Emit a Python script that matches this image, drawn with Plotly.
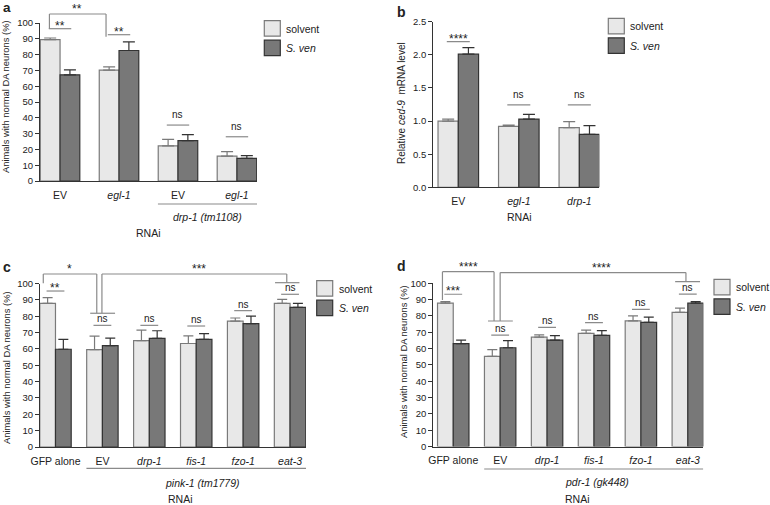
import plotly.graph_objects as go

W, H = 770, 505
FONT = 'Liberation Sans, Arial, sans-serif'
INK = '#222222'
GRAY = '#8a8a8a'
LIGHT = '#e8e8e8'
LIGHT_EDGE = '#7a7a7a'
DARK = '#787878'
DARK_EDGE = '#333333'

# ---- panel a: % animals with normal DA neurons ----
a_groups = ['EV', '<i>egl-1</i>', 'EV', '<i>egl-1</i>']
a_solvent = [89.5, 70.2, 22.2, 15.8]
a_solvent_err = [1.0, 2.0, 4.1, 2.8]
a_sven = [67.2, 82.6, 25.5, 14.3]
a_sven_err = [3.1, 5.5, 3.8, 1.7]

# ---- panel b: relative ced-9 mRNA level ----
b_groups = ['EV', '<i>egl-1</i>', '<i>drp-1</i>']
b_solvent = [1.00, 0.92, 0.90]
b_solvent_err = [0.03, 0.02, 0.09]
b_sven = [2.01, 1.03, 0.80]
b_sven_err = [0.10, 0.07, 0.13]

# ---- panel c: pink-1 (tm1779) ----
c_groups = ['GFP alone', 'EV', '<i>drp-1</i>', '<i>fis-1</i>', '<i>fzo-1</i>', '<i>eat-3</i>']
c_solvent = [87.8, 59.6, 65.0, 63.3, 77.0, 87.8]
c_solvent_err = [3.6, 8.2, 6.5, 4.7, 1.9, 2.5]
c_sven = [59.8, 62.0, 66.4, 65.8, 75.5, 85.4]
c_sven_err = [6.0, 4.6, 4.7, 3.6, 4.5, 2.4]

# ---- panel d: pdr-1 (gk448) ----
d_groups = ['GFP alone', 'EV', '<i>drp-1</i>', '<i>fis-1</i>', '<i>fzo-1</i>', '<i>eat-3</i>']
d_solvent = [87.8, 55.2, 67.0, 69.3, 77.0, 82.2]
d_solvent_err = [1.0, 4.1, 1.4, 2.0, 3.0, 2.6]
d_sven = [63.0, 60.5, 65.2, 68.1, 76.0, 87.8]
d_sven_err = [2.2, 4.4, 2.7, 2.9, 3.3, 1.0]

# significance within a group: (group, label, line level)
a_pairs = [(0, '**', 96.4), (1, '**', 92.6), (2, 'ns', 35.4), (3, 'ns', 28.0)]
b_pairs = [(0, '****', 2.2), (1, 'ns', 1.243), (2, 'ns', 1.243)]
c_pairs = [(0, '**', 95.4), (1, 'ns', 74.4), (2, 'ns', 74.4), (3, 'ns', 74.0), (4, 'ns', 83.4), (5, 'ns', 93.4)]
d_pairs = [(0, '***', 93.3), (1, 'ns', 68.3), (2, 'ns', 73.0), (3, 'ns', 75.9), (4, 'ns', 84.0), (5, 'ns', 93.4)]

# long brackets: (left x, right x, top level, left end, right end, label, label x)
a_brackets = [(-0.18, 0.78, 105.7, 96.2, 91.3, '**', 0.29)]
c_brackets = [(-0.26, 0.88, 105.8, 100.1, 81.8, '*', 0.30),
              (0.99, 4.93, 105.8, 81.8, 100.5, '***', 3.05)]
d_brackets = [(-0.23, 0.87, 107.1, 89.8, 76.9, '****', 0.32),
              (1.0, 4.96, 106.6, 76.9, 101.0, '****', 3.15)]
# bracket feet: (x0, x1, level)
c_feet = [(0.74, 1.27, 81.8), (4.68, 5.20, 100.5)]
d_feet = [(0.74, 1.27, 76.9), (4.73, 5.26, 101.0)]

fig = go.Figure()


def px(x, y):
    return x / W, 1 - y / H


def line_seg(sfx, x0, x1, y0, y1, ymax):
    fig.add_shape(type='line', xref='x' + sfx, yref='y' + sfx + ' domain',
                  x0=x0, x1=x1, y0=y0 / ymax, y1=y1 / ymax,
                  line=dict(color=GRAY, width=1.2))


def sig_text(sfx, x, level, ymax, label, shift):
    star = '*' in label
    fig.add_annotation(xref='x' + sfx, yref='y' + sfx + ' domain', x=x, y=level / ymax,
                       text=label, showarrow=False, yanchor='middle', yshift=shift,
                       font=dict(size=12 if star else 10, color=INK, family=FONT))


def add_panel(n, groups, sol, sol_err, sv, sv_err, ymax, dtick, tickfmt,
              xpx, ypx, xrange, cap, pairs, ns_shift, brackets=(), feet=()):
    sfx = '' if n == 1 else str(n)
    xa, ya = 'x' + sfx, 'y' + sfx
    x = list(range(len(groups)))
    fig.add_trace(go.Bar(x=x, y=sol, name='solvent', xaxis=xa, yaxis=ya, showlegend=False,
                         marker=dict(color=LIGHT, line=dict(color=LIGHT_EDGE, width=1.2)),
                         error_y=dict(type='data', symmetric=False, array=sol_err,
                                      arrayminus=[0] * len(x), color=LIGHT_EDGE,
                                      thickness=1.2, width=cap)))
    fig.add_trace(go.Bar(x=x, y=sv, name='S. ven', xaxis=xa, yaxis=ya, showlegend=False,
                         marker=dict(color=DARK, line=dict(color=DARK_EDGE, width=1.2)),
                         error_y=dict(type='data', symmetric=False, array=sv_err,
                                      arrayminus=[0] * len(x), color=DARK_EDGE,
                                      thickness=1.2, width=cap)))
    fig.update_layout({
        'xaxis' + sfx: dict(domain=[xpx[0] / W, xpx[1] / W], anchor=ya, range=list(xrange),
                            tickvals=x, ticktext=groups, showline=True, linecolor='#333333',
                            linewidth=1.2, ticks='outside', ticklen=4, tickcolor='rgba(0,0,0,0)',
                            showgrid=False, zeroline=False, automargin=False,
                            tickfont=dict(size=10.5, color=INK, family=FONT)),
        'yaxis' + sfx: dict(domain=[1 - ypx[0] / H, 1 - ypx[1] / H], anchor=xa, range=[0, ymax],
                            dtick=dtick, tickformat=tickfmt, showline=True, linecolor='#333333',
                            linewidth=1.2, ticks='outside', ticklen=4, tickwidth=1.2,
                            tickcolor='#333333', showgrid=False, zeroline=False, automargin=False,
                            tickfont=dict(size=9.5, color=INK, family=FONT)),
    })
    for g, label, level in pairs:
        line_seg(sfx, g - 0.19, g + 0.19, level, level, ymax)
        sig_text(sfx, g, level, ymax, label, 3 if '*' in label else ns_shift)
    for xl, xr, top, yl, yr, label, lx in brackets:
        line_seg(sfx, xl, xl, yl, top, ymax)
        line_seg(sfx, xl, xr, top, top, ymax)
        line_seg(sfx, xr, xr, top, yr, ymax)
        sig_text(sfx, lx, top, ymax, label, 5)
    for x0, x1, level in feet:
        line_seg(sfx, x0, x1, level, level, ymax)


def add_legend(x0, y0):
    items = [('solvent', LIGHT, LIGHT_EDGE), ('<i>S. ven</i>', DARK, DARK_EDGE)]
    for i, (name, fill, edge) in enumerate(items):
        top = y0 + i * 19.5
        xa, ya = px(x0, top)
        xb, yb = px(x0 + 16, top + 15.5)
        fig.add_shape(type='rect', xref='paper', yref='paper', x0=xa, x1=xb, y0=yb, y1=ya,
                      fillcolor=fill, line=dict(color=edge, width=1.2))
        tx, ty = px(x0 + 20, top + 8)
        fig.add_annotation(xref='paper', yref='paper', x=tx, y=ty, text=name, showarrow=False,
                           xanchor='left', yanchor='middle',
                           font=dict(size=10.5, color=INK, family=FONT))


def text_at(x, y, text, size=10.5, angle=0, bold=False):
    tx, ty = px(x, y)
    fig.add_annotation(xref='paper', yref='paper', x=tx, y=ty, text=f'<b>{text}</b>' if bold else text,
                       showarrow=False, textangle=angle, xanchor='center', yanchor='middle',
                       font=dict(size=size, color=INK, family=FONT))


def group_line(sfx, x0, x1, y):
    fig.add_shape(type='line', xref='x' + sfx, yref='paper', x0=x0, x1=x1,
                  y0=1 - y / H, y1=1 - y / H, line=dict(color=GRAY, width=1.2))


add_panel(1, a_groups, a_solvent, a_solvent_err, a_sven, a_sven_err, 100, 10, '',
          (40, 257), (181, 23), (-0.34, 3.34), 6, a_pairs, 10.5, a_brackets)
add_panel(2, b_groups, b_solvent, b_solvent_err, b_sven, b_sven_err, 2.5, 0.5, '.1f',
          (433.3, 599.3), (187.3, 21.7), (-0.413, 2.33), 6, b_pairs, 10.5)
add_panel(3, c_groups, c_solvent, c_solvent_err, c_sven, c_sven_err, 100, 10, '',
          (40, 306), (447, 283.5), (-0.33, 5.34), 5, c_pairs, 6.5, c_brackets, c_feet)
add_panel(4, d_groups, d_solvent, d_solvent_err, d_sven, d_sven_err, 100, 10, '',
          (433.3, 703.3), (446.5, 283.3), (-0.425, 5.33), 5, d_pairs, 6.5, d_brackets, d_feet)

# legends
add_legend(264.3, 20.7)
add_legend(608.3, 18.3)
add_legend(316.7, 280.7)
add_legend(714, 279.3)

# panel letters
text_at(7, 7, 'a', 13.5, bold=True)
text_at(402, 12, 'b', 14, bold=True)
text_at(7, 267, 'c', 14, bold=True)
text_at(402, 266, 'd', 14, bold=True)

# y axis titles
text_at(6, 97, 'Animals with normal DA neurons (%)', 9.4, angle=-90)
text_at(402, 103, 'Relative <i>ced-9</i>  mRNA level', 10, angle=-90)
text_at(6, 368, 'Animals with normal DA neurons (%)', 9.4, angle=-90)
text_at(403, 362, 'Animals with normal DA neurons (%)', 9.4, angle=-90)

# group labels under the axes
group_line('', 1.66, 3.34, 204)
text_at(208, 216.7, '<i>drp-1 (tm1108)</i>')
text_at(148, 233, 'RNAi')
text_at(519, 216.7, 'RNAi')
group_line('3', 0.66, 5.34, 468.3)
text_at(203, 482.7, '<i>pink-1 (tm1779)</i>')
text_at(180, 498.5, 'RNAi')
group_line('4', 0.66, 5.33, 469)
text_at(597, 481.7, '<i>pdr-1 (gk448)</i>')
text_at(577, 498.5, 'RNAi')

fig.update_layout(width=W, height=H, margin=dict(l=0, r=0, t=0, b=0),
                  plot_bgcolor='white', paper_bgcolor='white',
                  barmode='group', bargap=0.33, bargroupgap=0,
                  font=dict(family=FONT, color=INK), showlegend=False)
fig.write_html('out.html', config={'displayModeBar': False},
               post_script="document.body.style.margin='0px';")
